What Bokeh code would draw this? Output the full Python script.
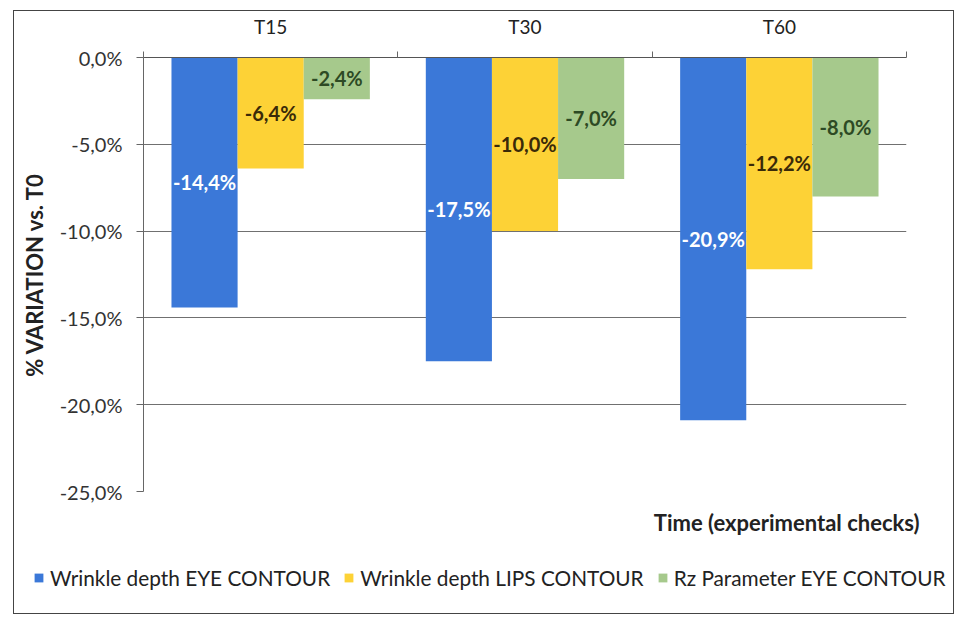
from bokeh.plotting import figure
from bokeh.layouts import column
from bokeh.models import (ColumnDataSource, Range1d, FixedTicker, LinearAxis, Legend,
                          LegendItem, Title)
from bokeh.core.properties import value
from bokeh.embed import file_html
from bokeh.resources import INLINE

# ---- data ----
categories = ["T15", "T30", "T60"]
eye_depth = [-14.4, -17.5, -20.9]
lips_depth = [-6.4, -10.0, -12.2]
rz_eye = [-2.4, -7.0, -8.0]
series_names = ["Wrinkle depth EYE CONTOUR", "Wrinkle depth LIPS CONTOUR", "Rz Parameter EYE CONTOUR"]
y_ticks = [0, -5, -10, -15, -20, -25]

colors = ["#3b78d8", "#fdd236", "#a6c98c"]
label_colors = ["#ffffff", "#3a2a08", "#2d4a24"]
FONT = "Lato"

W = 939
p = figure(width=W, height=540, output_backend="svg", toolbar_location=None,
           x_range=Range1d(0, 3), y_range=Range1d(-25, 0),
           x_axis_location=None, y_axis_location=None,
           min_border_left=129, min_border_right=47, min_border_top=46, min_border_bottom=60)
p.outline_line_color = None
p.background_fill_color = "white"
p.border_fill_color = "white"

# left axis
yax = LinearAxis(ticker=FixedTicker(ticks=y_ticks, minor_ticks=[]))
yax.major_label_overrides = {t: ("%.1f%%" % t).replace(".", ",") for t in y_ticks}
yax.major_label_text_font = FONT
yax.major_label_text_font_size = "20px"
yax.major_label_text_color = "#333333"
yax.major_label_standoff = 14
yax.major_tick_out = 7
yax.major_tick_in = 0
yax.major_tick_line_color = "#666666"
yax.axis_line_color = "#666666"
yax.axis_label = "% VARIATION vs. T0"
yax.axis_label_text_font = FONT
yax.axis_label_text_font_style = "bold"
yax.axis_label_text_font_size = "22px"
yax.axis_label_text_color = "#222222"
yax.axis_label_standoff = 9
p.add_layout(yax, "left")

# top axis with category labels, boundary ticks
xax = LinearAxis(ticker=FixedTicker(ticks=[0.5, 1.5, 2.5], minor_ticks=[0, 1, 2, 3]))
xax.major_label_overrides = {0.5 + i: c for i, c in enumerate(categories)}
xax.major_label_text_font = FONT
xax.major_label_text_font_size = "19px"
xax.major_label_text_color = "#222222"
xax.major_label_standoff = 14
xax.major_tick_out = 0
xax.major_tick_in = 0
xax.minor_tick_out = 6
xax.minor_tick_in = 0
xax.minor_tick_line_color = "#666666"
xax.axis_line_color = "#555555"
p.add_layout(xax, "above")

# grid lines
p.ygrid.ticker = FixedTicker(ticks=y_ticks)
p.ygrid.grid_line_color = "#707070"
p.ygrid.grid_line_width = 1
p.xgrid.grid_line_color = None

bw = 0.26
offsets = [-bw, 0.0, bw]
sources = []
for s, (vals, off) in enumerate(zip([eye_depth, lips_depth, rz_eye], offsets)):
    xs = [i + 0.5 + off for i in range(len(categories))]
    src = ColumnDataSource(dict(
        x=xs, top=[0] * len(vals), bottom=vals, mid=[v / 2 for v in vals],
        lab=[("%.1f%%" % v).replace(".", ",") for v in vals]))
    sources.append(src)
    p.vbar(x="x", top="top", bottom="bottom", width=bw, source=src,
           fill_color=colors[s], line_color=None)
    p.text(x="x", y="mid", text="lab", source=src, text_align="center", text_baseline="middle",
           text_font=value(FONT), text_font_style="bold", text_font_size="20px",
           text_color=label_colors[s])

xt = Title(text="Time (experimental checks)", align="right", text_font=FONT,
           text_font_style="bold", text_font_size="22px", text_color="#222222",
           offset=-13, standoff=30)
p.add_layout(xt, "below")

# legend strip (its own figure; bars there sit outside its visible range)
lf = figure(width=W, height=62, output_backend="svg", toolbar_location=None,
            x_range=Range1d(0, 3), y_range=Range1d(50, 60),
            x_axis_location=None, y_axis_location=None,
            min_border_left=0, min_border_right=0, min_border_top=0, min_border_bottom=0)
lf.frame_align = False
lf.outline_line_color = None
lf.xgrid.grid_line_color = None
lf.ygrid.grid_line_color = None
items = []
for s in range(3):
    r = lf.vbar(x="x", top="top", bottom="bottom", width=bw, source=sources[s],
                fill_color=colors[s], line_color=None)
    items.append(LegendItem(label=series_names[s], renderers=[r]))
legend = Legend(items=items, orientation="horizontal", location=(19, 23),
                label_text_font=FONT, label_text_font_size="20.8px", label_text_color="#222222",
                glyph_width=11, glyph_height=11, label_standoff=6, spacing=13,
                padding=0, margin=0, border_line_color=None, background_fill_alpha=0)
lf.add_layout(legend, "center")

layout = column(p, lf, spacing=0)
layout.margin = (10, 0, 0, 13)
layout.styles = {"border": "1px solid #444"}

open("out.html", "w").write(file_html(layout, INLINE))
